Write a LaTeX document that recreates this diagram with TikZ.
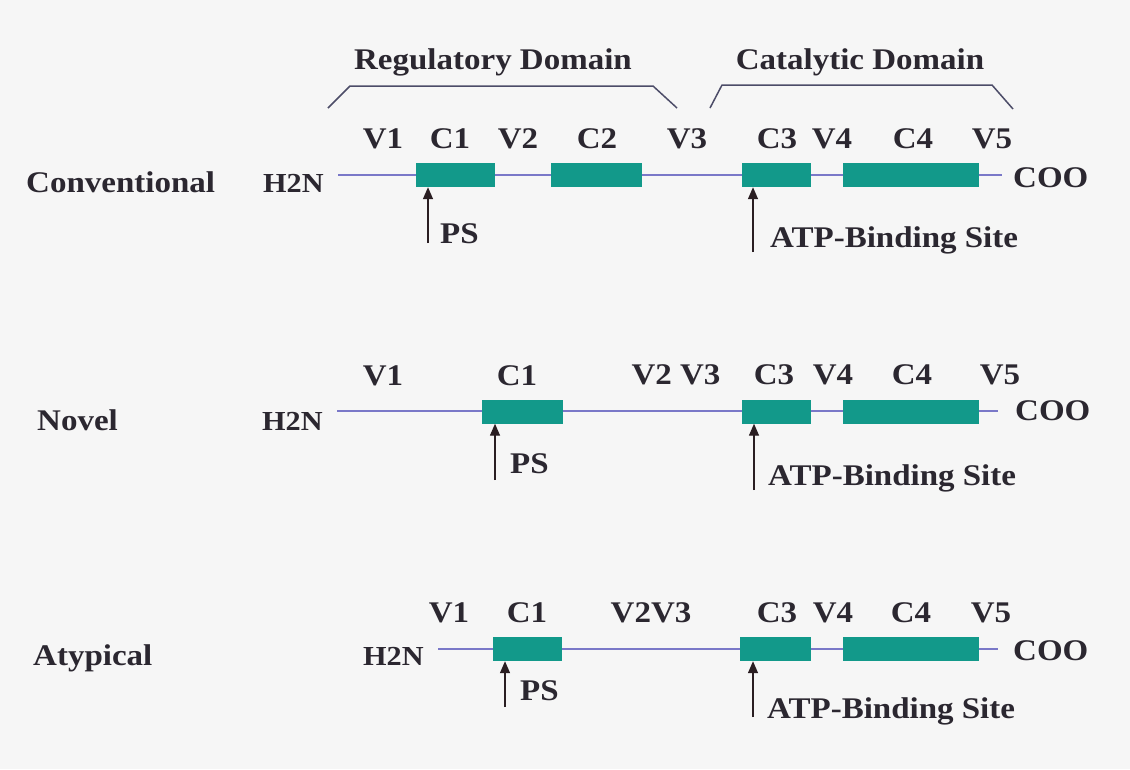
\documentclass[tikz,border=0pt]{standalone}
\usepackage{fontspec}
\newfontfamily\lblfont[FakeStretch=1.1]{Liberation Serif}
\usetikzlibrary{arrows.meta}
\definecolor{paper}{HTML}{F6F6F6}
\definecolor{ink}{HTML}{2B2730}
\definecolor{domfill}{HTML}{12998A}
\definecolor{chain}{HTML}{7A78C8}
\definecolor{brace}{HTML}{4C4C68}
\definecolor{arrowink}{HTML}{2A1E22}
\tikzset{
  lbl/.style={inner sep=0pt, anchor=base, text=ink, font=\lblfont\bfseries\fontsize{30}{30}\selectfont},
  lblw/.style={lbl, anchor=base west},
  termlbl/.style={lblw, font=\lblfont\bfseries\fontsize{27.5}{28}\selectfont},
  dom/.style={draw=none, fill=domfill, inner sep=0pt, minimum height=24pt},
  chainline/.style={draw=chain, line width=1.8pt},
  bracket/.style={draw=brace, line width=1.5pt, line join=round},
  site/.style={draw=arrowink, line width=1.4pt, -{Triangle[length=12pt,width=10pt]}}
}
\begin{document}
\begin{tikzpicture}[x=1pt, y=-1pt]
\fill[paper] (0,0) rectangle (1130,769);
\useasboundingbox (0,0) rectangle (1130,769);

% domain brackets
\draw[bracket] (328,108) -- (350,86) -- (653,86) -- (677,108);
\draw[bracket] (710,108) -- (722,85) -- (992,85) -- (1013,109);
\node[lbl] (regdom) at (493,69) {Regulatory Domain};
\node[lbl] (catdom) at (860,69) {Catalytic Domain};

% ---------- Conventional ----------
\node[lblw] (conv) at (26,192) {Conventional};
\node[termlbl] (convN) at (263,192) {H2N};
\coordinate (convS) at (338,175);
\coordinate (convE) at (1002,175);
\draw[chainline] (convS) -- (convE);
\node[dom, minimum width=79pt] (convC1) at (455.5,175) {};
\node[dom, minimum width=91pt] (convC2) at (596.5,175) {};
\node[dom, minimum width=69pt] (convC3) at (776.5,175) {};
\node[dom, minimum width=136pt] (convC4) at (911,175) {};
\node[lblw] (convCOO) at (1013,187) {COO};
\node[lbl] at (383,148) {V1};
\node[lbl] at (450,148) {C1};
\node[lbl] at (518,148) {V2};
\node[lbl] at (597,148) {C2};
\node[lbl] at (687,148) {V3};
\node[lbl] at (777,148) {C3};
\node[lbl] at (832,148) {V4};
\node[lbl] at (913,148) {C4};
\node[lbl] at (992,148) {V5};
\coordinate (convPSa) at (428,243);
\coordinate (convATPa) at (753,252);
\draw[site] (convPSa) -- (convPSa |- convC1.south);
\draw[site] (convATPa) -- (convATPa |- convC3.south);
\node[lblw] (convPS) at (440,243) {PS};
\node[lblw] (convATP) at (770,247) {ATP-Binding Site};

% ---------- Novel ----------
\node[lblw] (nov) at (37,430) {Novel};
\node[termlbl] (novN) at (262,430) {H2N};
\coordinate (novS) at (337,411);
\coordinate (novE) at (998,411);
\draw[chainline] (novS) -- (novE);
\node[dom, minimum width=81pt] (novC1) at (522.5,411.5) {};
\node[dom, minimum width=69pt] (novC3) at (776.5,411.5) {};
\node[dom, minimum width=136pt] (novC4) at (911,411.5) {};
\node[lblw] (novCOO) at (1015,420) {COO};
\node[lbl] at (383,385) {V1};
\node[lbl] at (517,385) {C1};
\node[lbl] at (676,384) {V2 V3};
\node[lbl] at (774,384) {C3};
\node[lbl] at (833,384) {V4};
\node[lbl] at (912,384) {C4};
\node[lbl] at (1000,384) {V5};
\coordinate (novPSa) at (495,480);
\coordinate (novATPa) at (754,490);
\draw[site] (novPSa) -- (novPSa |- novC1.south);
\draw[site] (novATPa) -- (novATPa |- novC3.south);
\node[lblw] (novPS) at (510,473) {PS};
\node[lblw] (novATP) at (768,485) {ATP-Binding Site};

% ---------- Atypical ----------
\node[lblw] (aty) at (33,665) {Atypical};
\node[termlbl] (atyN) at (363,665) {H2N};
\coordinate (atyS) at (438,649);
\coordinate (atyE) at (998,649);
\draw[chainline] (atyS) -- (atyE);
\node[dom, minimum width=69pt] (atyC1) at (527.5,649) {};
\node[dom, minimum width=71pt] (atyC3) at (775.5,649) {};
\node[dom, minimum width=136pt] (atyC4) at (911,649) {};
\node[lblw] (atyCOO) at (1013,660) {COO};
\node[lbl] at (449,622) {V1};
\node[lbl] at (527,622) {C1};
\node[lbl] at (651,622) {V2V3};
\node[lbl] at (777,622) {C3};
\node[lbl] at (833,622) {V4};
\node[lbl] at (911,622) {C4};
\node[lbl] at (991,622) {V5};
\coordinate (atyPSa) at (505,707);
\coordinate (atyATPa) at (753,717);
\draw[site] (atyPSa) -- (atyPSa |- atyC1.south);
\draw[site] (atyATPa) -- (atyATPa |- atyC3.south);
\node[lblw] (atyPS) at (520,700) {PS};
\node[lblw] (atyATP) at (767,718) {ATP-Binding Site};
\end{tikzpicture}
\end{document}
